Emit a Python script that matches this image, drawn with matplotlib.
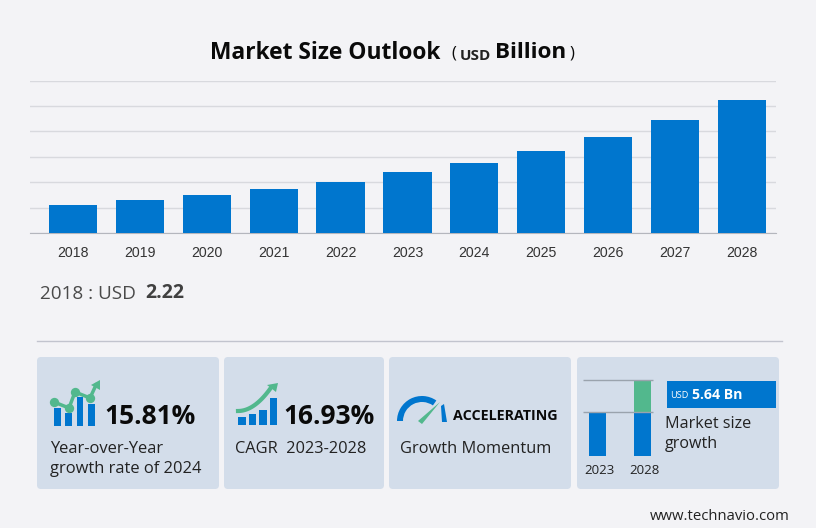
import numpy as np
import matplotlib
matplotlib.use('Agg')
import matplotlib.pyplot as plt
from matplotlib.patches import FancyBboxPatch, Rectangle, Polygon, Wedge

years = ['2018', '2019', '2020', '2021', '2022', '2023', '2024', '2025', '2026', '2027', '2028']
values = [2.22, 2.58, 3.00, 3.47, 4.04, 4.78, 5.53, 6.43, 7.53, 8.86, 10.43]
grid_ticks = [0, 2, 4, 6, 8, 10, 12]

mini_years = ['2023', '2028']
mini_base = [4.4, 4.4]
mini_growth = [0, 3.2]

icon1_bars = [18, 13, 29, 22]
icon2_bars = [8, 11, 15, 27]

BLUE = '#0076ce'
GREEN = '#52b88d'
BG = '#f3f3f6'
CARD = '#d3ddea'
W, H = 816, 528

plt.rcParams['font.family'] = ['Open Sans', 'DejaVu Sans']

fig = plt.figure(figsize=(W / 100, H / 100), dpi=100, facecolor=BG)


def px_axes(x0, y0, x1, y1):
    return fig.add_axes([x0 / W, 1 - y1 / H, (x1 - x0) / W, (y1 - y0) / H])


# overlay in pixel coordinates for cards, text and icons
ov = fig.add_axes([0, 0, 1, 1], zorder=0)
ov.set_xlim(0, W)
ov.set_ylim(H, 0)
ov.axis('off')

ov.text(325.5, 53, 'Market Size Outlook', fontsize=16.4, fontweight='bold', color='#0a0a0a', ha='center', va='center')
ov.text(451, 54, '(', fontsize=12, color='#0a0a0a', ha='left', va='center')
ov.text(460, 55.5, 'USD', fontsize=11, fontweight='bold', color='#222222', ha='left', va='center')
ov.text(495, 53, 'Billion', fontsize=16.2, fontweight='bold', color='#0a0a0a', ha='left', va='center')
ov.text(570, 54, ')', fontsize=12, color='#0a0a0a', ha='left', va='center')

ov.text(40, 294, '2018 : USD', fontsize=13.6, color='#4a4a4a', ha='left', va='center')
ov.text(145, 293, '2.22', fontsize=14, fontweight='bold', color='#404040', ha='left', va='center')
ov.plot([37, 782], [340.5, 340.5], color='#c2c4ce', lw=1)

# main chart
ax = px_axes(30, 80.5, 776, 233.3)
ax.set_zorder(1)
ax.patch.set_alpha(0)
x = np.arange(len(years))
ax.bar(x, values, width=0.72, color=BLUE, zorder=3)
ax.set_xlim(-0.643, 10.51)
ax.set_ylim(0, 12)
ax.set_yticks(grid_ticks)
ax.set_yticklabels([])
ax.set_xticks(x)
ax.set_xticklabels(years, fontsize=10.2, color='#333333', family=['Liberation Sans'])
ax.tick_params(length=0)
ax.tick_params(axis='x', pad=9)
ax.grid(axis='y', color='#d8d9de', lw=1, zorder=0)
for s in ['top', 'left', 'right']:
    ax.spines[s].set_visible(False)
ax.spines['bottom'].set_color('#b4b6bd')

# cards
for x0, x1 in [(37, 219), (224, 384), (389, 571), (577, 779)]:
    ov.add_patch(FancyBboxPatch((x0 + 4, 361), x1 - x0 - 8, 124, boxstyle='round,pad=4,rounding_size=4',
                                fc=CARD, ec='none'))

# card 1
for i, h in enumerate(icon1_bars):
    ov.add_patch(Rectangle((54 + i * 11.4, 426 - h), 6.5, h, fc=BLUE, ec='none'))
lx = [54, 69, 75, 90, 96]
ly = [402, 408, 392, 398, 385]
ov.plot(lx, ly, color=GREEN, lw=2.5)
ov.scatter(lx[:4], ly[:4], s=45, color=GREEN, zorder=3, linewidths=0)
ov.add_patch(Polygon([[91, 385], [100, 380], [100, 390]], fc=GREEN, ec='none'))
ov.text(104, 416, '15.81%', fontsize=19, fontweight='bold', color='#0a0a0a', ha='left', va='center')
ov.text(50, 449, 'Year-over-Year', fontsize=11.9, color='#222222', ha='left', va='center')
ov.text(50, 469, 'growth rate of 2024', fontsize=11.9, color='#222222', ha='left', va='center')

# card 2
for i, h in enumerate(icon2_bars):
    ov.add_patch(Rectangle((238 + i * 10.5, 425 - h), 7.5, h, fc=BLUE, ec='none'))
t = np.linspace(0, 1, 30)
ov.plot(238 + 32 * t, 411 - 22 * t ** 2, color=GREEN, lw=3)
ov.add_patch(Polygon([[267, 385], [278, 383], [276, 392]], fc=GREEN, ec='none'))
ov.text(283, 416, '16.93%', fontsize=19, fontweight='bold', color='#0a0a0a', ha='left', va='center')
ov.text(235, 449, 'CAGR  2023-2028', fontsize=11.8, color='#222222', ha='left', va='center')

# card 3
ov.add_patch(Wedge((422, 421), 25, 180, 305, width=6, fc=BLUE, ec='none'))
ov.add_patch(Polygon([[441, 406], [444, 404], [447, 422], [442, 422]], fc=BLUE, ec='none', zorder=3))
ov.add_patch(Polygon([[418, 421], [422, 424], [440, 402]], fc=GREEN, ec='none', zorder=3))
ov.text(453, 416.5, 'ACCELERATING', fontsize=10.3, fontweight='bold', color='#0a0a0a', ha='left', va='center')
ov.text(400, 449, 'Growth Momentum', fontsize=11.8, color='#222222', ha='left', va='center')

# card 4
mini = px_axes(583, 380, 653, 456)
mini.set_zorder(1)
mini.patch.set_alpha(0)
mx = np.arange(len(mini_years))
mini.bar(mx, mini_base, width=0.378, color=BLUE, zorder=2)
mini.bar(mx, mini_growth, bottom=mini_base, width=0.378, color=GREEN, zorder=2)
mini.set_xlim(-0.322, 1.233)
mini.set_ylim(0, 7.6)
mini.hlines([4.4, 7.6], -0.322, 1.233, color='#9aa3ad', lw=1, zorder=3, clip_on=False)
mini.set_yticks([])
mini.set_xticks(mx + 0.04)
mini.set_xticklabels(mini_years, fontsize=9.5, color='#222222')
mini.tick_params(length=0, pad=5.5)
for s in mini.spines.values():
    s.set_visible(False)

ov.add_patch(Rectangle((667, 381), 109, 27, fc=BLUE, ec='none', zorder=2))
ov.text(670, 396, 'USD', fontsize=6.6, color='white', ha='left', va='center', zorder=3)
ov.text(692, 395, '5.64 Bn', fontsize=10.2, fontweight='bold', color='white', ha='left', va='center', zorder=3)
ov.text(665, 424, 'Market size', fontsize=11.6, color='#222222', ha='left', va='center')
ov.text(665, 444, 'growth', fontsize=11.6, color='#222222', ha='left', va='center')

ov.text(650, 517, 'www.technavio.com', fontsize=10.7, color='#222222', ha='left', va='center')

fig.savefig('out.png', dpi=100, facecolor=BG)
